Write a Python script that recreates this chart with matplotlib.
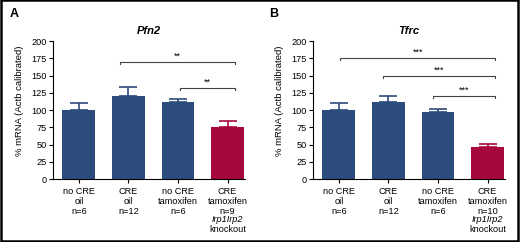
import matplotlib.pyplot as plt
from matplotlib.patches import Rectangle

plt.rcParams['font.family'] = ['Liberation Sans', 'DejaVu Sans']

groups = ['no CRE\noil\nn=6', 'CRE\noil\nn=12', 'no CRE\ntamoxifen\nn=6', 'CRE\ntamoxifen\nn={}']

pfn2_mean = [100, 121, 112, 75]
pfn2_err = [10, 12, 4, 9]
pfn2_n = 9
# brackets: (left x, right x, height, stars)
pfn2_sig = [(0.84, 3.15, 170, '**'), (2.04, 3.15, 132, '**')]

tfrc_mean = [100, 112, 97, 46]
tfrc_err = [10, 9, 5, 5]
tfrc_n = 10
tfrc_sig = [(0.03, 3.15, 175, '***'), (0.9, 3.15, 149, '***'), (1.9, 3.15, 121, '***')]

blue = '#2d4c7e'
red = '#a5093b'
colors = [blue, blue, blue, red]


def panel(ax, means, errs, n, sig, gene):
    x = range(len(means))
    ax.bar(x, means, width=0.66, color=colors)
    for i in x:
        ax.errorbar(i, means[i], yerr=[[0], [errs[i]]], fmt='none', ecolor=colors[i],
                    elinewidth=1.2, capsize=6.5, capthick=1.2)
    for x0, x1, h, s in sig:
        ax.plot([x0, x0, x1, x1], [h - 3, h, h, h - 3], color='#444444', lw=0.8)
        ax.text((x0 + x1) / 2, h + 2, s, ha='center', va='bottom', fontsize=6.5)
    ax.set_xlim(-0.52, 3.35)
    ax.set_ylim(0, 200)
    ax.set_yticks(range(0, 201, 25))
    ax.set_xticks(list(x))
    labels = groups[:3] + [groups[3].format(n)]
    ax.set_xticklabels(labels, fontsize=6.6, linespacing=1.12)
    ax.tick_params(axis='y', labelsize=6.6, length=3, width=0.8, pad=1.5)
    ax.tick_params(axis='x', length=3, width=0.8, pad=3)
    for sp in ['top', 'right']:
        ax.spines[sp].set_visible(False)
    for sp in ['left', 'bottom']:
        ax.spines[sp].set_linewidth(0.8)
    ax.set_ylabel('% mRNA (Actb calibrated)', fontsize=6.8)
    ax.yaxis.set_label_coords(-0.15, 0.57)
    ax.set_title(gene, fontsize=8, fontweight='bold', fontstyle='italic', pad=5)
    ax.text(3, -40 / 138, 'Irp1Irp2', transform=ax.get_xaxis_transform(),
            ha='center', va='center', fontsize=6.6, fontstyle='italic')
    ax.text(3, -50 / 138, 'knockout', transform=ax.get_xaxis_transform(),
            ha='center', va='center', fontsize=6.6)


fig = plt.figure(figsize=(5.2, 2.42), dpi=100)
axA = fig.add_axes([0.102, 0.260, 0.369, 0.570])
axB = fig.add_axes([0.602, 0.260, 0.369, 0.570])
panel(axA, pfn2_mean, pfn2_err, pfn2_n, pfn2_sig, 'Pfn2')
panel(axB, tfrc_mean, tfrc_err, tfrc_n, tfrc_sig, 'Tfrc')

fig.text(10 / 520, 1 - 14 / 242, 'A', fontsize=9, fontweight='bold', va='center')
fig.text(269 / 520, 1 - 14 / 242, 'B', fontsize=9, fontweight='bold', va='center')
fig.add_artist(Rectangle((0.002, 0.004), 0.995, 0.994, transform=fig.transFigure,
                         fill=False, edgecolor='black', lw=1.8))

fig.savefig('out.png', dpi=100)
